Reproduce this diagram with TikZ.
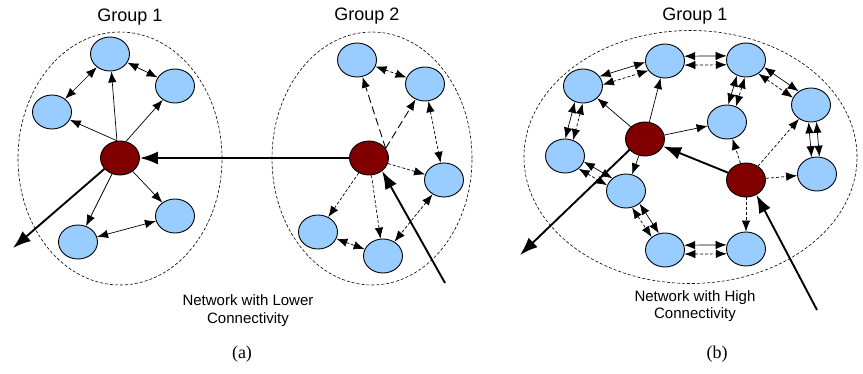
\documentclass[tikz,border=0pt]{standalone}
\usepackage{fontspec}
\setmainfont{Liberation Serif}
\newfontfamily\labfont{Liberation Sans}
\usetikzlibrary{arrows.meta,shapes.geometric}
\definecolor{nodeblue}{HTML}{99CCFF}
\definecolor{nodered}{HTML}{800000}
\tikzset{
  bnode/.style={ellipse, draw=black, line width=0.9pt, fill=nodeblue, minimum width=39pt, minimum height=34pt, inner sep=0pt},
  rnode/.style={bnode, fill=nodered},
  grp/.style={ellipse, draw=black, line width=0.6pt, dash pattern=on 3pt off 2pt, inner sep=0pt},
  arr/.style={line width=0.7pt, -{Latex[length=11pt,width=8.5pt]}},
  darr/.style={line width=0.7pt, {Latex[length=11pt,width=8.5pt]}-{Latex[length=11pt,width=8.5pt]}},
  sdash/.style={dash pattern=on 3pt off 2pt},
  ldash/.style={dash pattern=on 8pt off 4pt, line width=0.9pt},
  thk/.style={line width=1.9pt, -{Latex[length=18pt,width=13pt]}},
  glabel/.style={font=\labfont\fontsize{18}{21}\selectfont},
  nlabel/.style={font=\labfont\fontsize{15}{17.5}\selectfont, align=center},
  plabel/.style={font=\fontsize{18}{21}\selectfont}
}
\begin{document}
\begin{tikzpicture}[x=1pt,y=-1pt]
\useasboundingbox (0,0) rectangle (863,374);
% ---------- (a) ----------
\node[grp, minimum width=204pt, minimum height=253pt] (gA1) at (120,158.5) {};
\node[grp, minimum width=200pt, minimum height=253pt] (gA2) at (372,158.5) {};
\node[glabel] (tA1) at (130,17) {Group 1};
\node[glabel] (tA2) at (367,16) {Group 2};
% group 1 nodes
\node[bnode] (a1top) at (110,54) {};
\node[bnode] (a1ur) at (175,86) {};
\node[bnode] (a1l) at (52,112) {};
\node[rnode] (a1r) at (120,158) {};
\node[bnode] (a1lr) at (175,216) {};
\node[bnode] (a1ll) at (78,242) {};
% group 2 nodes
\node[bnode] (a2tl) at (357,60) {};
\node[bnode] (a2tr) at (425,84) {};
\node[rnode] (a2r) at (369,158) {};
\node[bnode] (a2rt) at (444,180) {};
\node[bnode] (a2ll) at (318,232) {};
\node[bnode] (a2b) at (383,256) {};
\coordinate (outA) at (13,248);
\coordinate (inA) at (445,283);
% group 1 edges
\draw[arr] (a1r.100) -- (a1top);
\draw[arr] (a1r.100) -- (a1l);
\draw[arr] (a1r.70) -- (a1ur);
\draw[arr] (a1r) -- (a1lr);
\draw[arr] (a1r) -- (a1ll);
\draw[darr] (a1top) -- (a1l);
\draw[darr] (a1top) -- (a1ur);
\draw[darr] (a1ll) -- (a1lr);
% group 2 edges
\draw[arr, ldash] (a2r.30) -- (a2tl);
\draw[arr, ldash] (a2r.30) -- (a2tr);
\draw[arr, sdash] (a2r) -- (a2rt);
\draw[arr, sdash] (a2r) -- (a2ll);
\draw[arr, sdash] (a2r) -- (a2b);
\draw[darr, sdash] (a2tl) -- (a2tr);
\draw[darr, sdash] (a2tr) -- (a2rt);
\draw[darr, sdash] (a2rt) -- (a2b);
\draw[darr, sdash] (a2ll) -- (a2b);
% thick
\draw[thk] (a2r) -- (a1r);
\draw[thk] (a1r.215) -- (outA);
\draw[thk] (inA) -- (a2r.-45);
\node[nlabel] (nA) at (248,310.5) {Network with Lower\\Connectivity};
\node[plabel] (pA) at (242,354) {(a)};
% ---------- (b) ----------
\node[grp, minimum width=333pt, minimum height=253pt] (gB) at (690.5,157) {};
\node[glabel] (tB) at (695,16) {Group 1};
\node[bnode] (N1) at (665,61) {};
\node[bnode] (N2) at (746,60) {};
\node[bnode] (N3) at (583,86) {};
\node[bnode] (N4) at (811,105) {};
\node[bnode] (N5) at (727,122) {};
\node[rnode] (R1) at (645,139) {};
\node[bnode] (N6) at (565,156) {};
\node[bnode] (N7) at (817,174) {};
\node[rnode] (R2) at (746,180) {};
\node[bnode] (N8) at (626,191) {};
\node[bnode] (N9) at (665,250) {};
\node[bnode] (N10) at (746,249) {};
\coordinate (outB) at (520,255);
\coordinate (inB) at (817,310);
% pairs
\draw[darr] (N3.30) -- (N1.184);
\draw[darr, sdash] (N3.4) -- (N1.210);
\draw[darr] (N1.14) -- (N2.168);
\draw[darr, sdash] (N1.-12) -- (N2.194);
\draw[darr] (N2.-120) -- (N5.86);
\draw[darr, sdash] (N2.-94) -- (N5.60);
\draw[darr] (N2.-22) -- (N4.132);
\draw[darr, sdash] (N2.-48) -- (N4.158);
\draw[darr] (N4.-72) -- (N7.82);
\draw[darr] (N4.-98) -- (N7.108);
\draw[darr] (N3.-117) -- (N6.89);
\draw[darr, sdash] (N3.-91) -- (N6.63);
\draw[darr] (N6.-17) -- (N8.137);
\draw[darr, sdash] (N6.-43) -- (N8.163);
\draw[darr] (N8.-43) -- (N9.110);
\draw[darr, sdash] (N8.-70) -- (N9.136);
\draw[darr] (N9.14) -- (N10.168);
\draw[darr, sdash] (N9.-12) -- (N10.194);
% singles
\draw[arr] (R1) -- (N1);
\draw[arr] (R1) -- (N3);
\draw[arr] (R1) -- (N5);
\draw[arr] (R1) -- (N8);
\draw[arr, sdash] (R2) -- (N5);
\draw[arr, sdash] (R2) -- (N4);
\draw[arr, sdash] (R2) -- (N7);
\draw[arr, sdash] (R2) -- (N10);
% thick
\draw[thk] (R2) -- (R1);
\draw[thk] (R1.215) -- (outB);
\draw[thk] (inB) -- (R2.-55);
\node[nlabel] (nB) at (695,306) {Network with High\\Connectivity};
\node[plabel] (pB) at (717,354) {(b)};
\end{tikzpicture}
\end{document}
